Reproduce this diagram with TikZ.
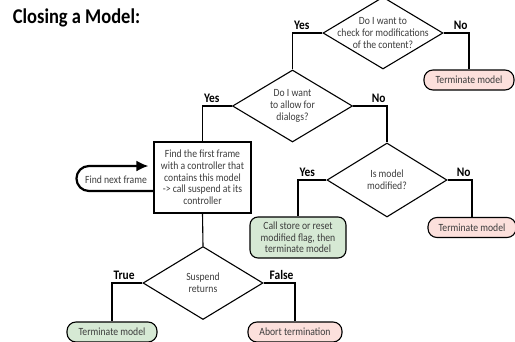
\documentclass[tikz,border=0pt]{standalone}
\usepackage{fontspec}
\setmainfont{Carlito}[FakeStretch=0.88]
\usetikzlibrary{arrows.meta,positioning,shapes.geometric,shapes.misc}
\definecolor{okgreen}{RGB}{214,233,212}
\definecolor{badred}{RGB}{252,224,220}
\definecolor{txtgray}{RGB}{60,60,60}
\begin{document}
\begin{tikzpicture}[x=1pt, y=-1pt, line width=1.1pt, every node/.style={font=\fontsize{11}{11.7}\selectfont, text=txtgray}, decision/.style={draw, diamond, minimum width=120pt, minimum height=72pt, inner sep=0pt}, qtext/.style={align=center}, process/.style={draw, rectangle, align=center, minimum width=97pt, minimum height=71pt, inner sep=2pt}, term/.style={draw, rounded corners=9pt, align=center, minimum height=20pt, inner sep=2pt}, good/.style={term, fill=okgreen}, bad/.style={term, fill=badred}, conn/.style={line width=1.1pt}, ylbl/.style={pos=0.5, anchor=south west, inner xsep=1pt, inner ysep=3pt, text=black, font=\bfseries\fontsize{13}{15}\selectfont}, nlbl/.style={ylbl, anchor=south east}, back/.style={line width=2.2pt, -{Latex[length=12pt,width=11pt]}, rounded corners=12.5pt}]
\useasboundingbox (0,0) rectangle (515,341);
\node[anchor=west, text=black, font=\bfseries\fontsize{21}{24}\selectfont] (title) at (9,18) {Closing a Model:};
\node[decision, label={[qtext]center:{Do I want to\\check for modifications\\of the content?}}] (check) at (383,33) {};
\node[decision, label={[qtext]center:{Do I want\\to allow for\\dialogs?}}] (dialogs) at (292.5,106) {};
\node[decision, minimum height=74pt, label={[qtext]center:{Is model\\modified?}}] (modified) at (387,180) {};
\node[process] (frame) at (202.5,177.5) {Find the first frame\\with a controller that\\contains this model\\-> call suspend at its\\controller};
\node[decision, minimum height=73pt, label={[qtext]center:{Suspend\\returns}}] (suspend) at (203,283) {};
\node[bad, minimum width=90pt] (term1) at (469,80) {Terminate model};
\node[good, minimum width=96pt, minimum height=41pt, rounded corners=8pt] (store) at (298,237.5) {Call store or reset\\modified flag, then\\terminate model};
\node[bad, minimum width=88pt] (term2) at (472,227.5) {Terminate model};
\node[good, minimum width=90pt] (term3) at (112,332) {Terminate model};
\node[bad, minimum width=94pt] (abort) at (295,332) {Abort termination};
\node (next) at (116,180) {Find next frame};
\draw[conn] (check.west) -| node[ylbl] (y1) {Yes} (dialogs.north);
\draw[conn] (check.east) -| node[nlbl] (n1) {No} (term1.north);
\draw[conn] (dialogs.west) -| node[ylbl] (y2) {Yes} (frame.north);
\draw[conn] (dialogs.east) -| node[nlbl] (n2) {No} (modified.north);
\draw[conn] (modified.west) -| node[ylbl] (y3) {Yes} (store.north);
\draw[conn] (modified.east) -| node[nlbl] (n3) {No} (term2.north);
\draw[conn] (frame.south) -- (suspend.north);
\draw[conn] (suspend.west) -| node[ylbl] (t4) {True} (term3.north);
\draw[conn] (suspend.east) -| node[nlbl] (f4) {False} (abort.north);
\draw[back] ([yshift=-13.5pt]frame.west) -- ++(-77,0) -- ++(0,-25) -- ([yshift=11.5pt,xshift=-5pt]frame.west);
\end{tikzpicture}
\end{document}
